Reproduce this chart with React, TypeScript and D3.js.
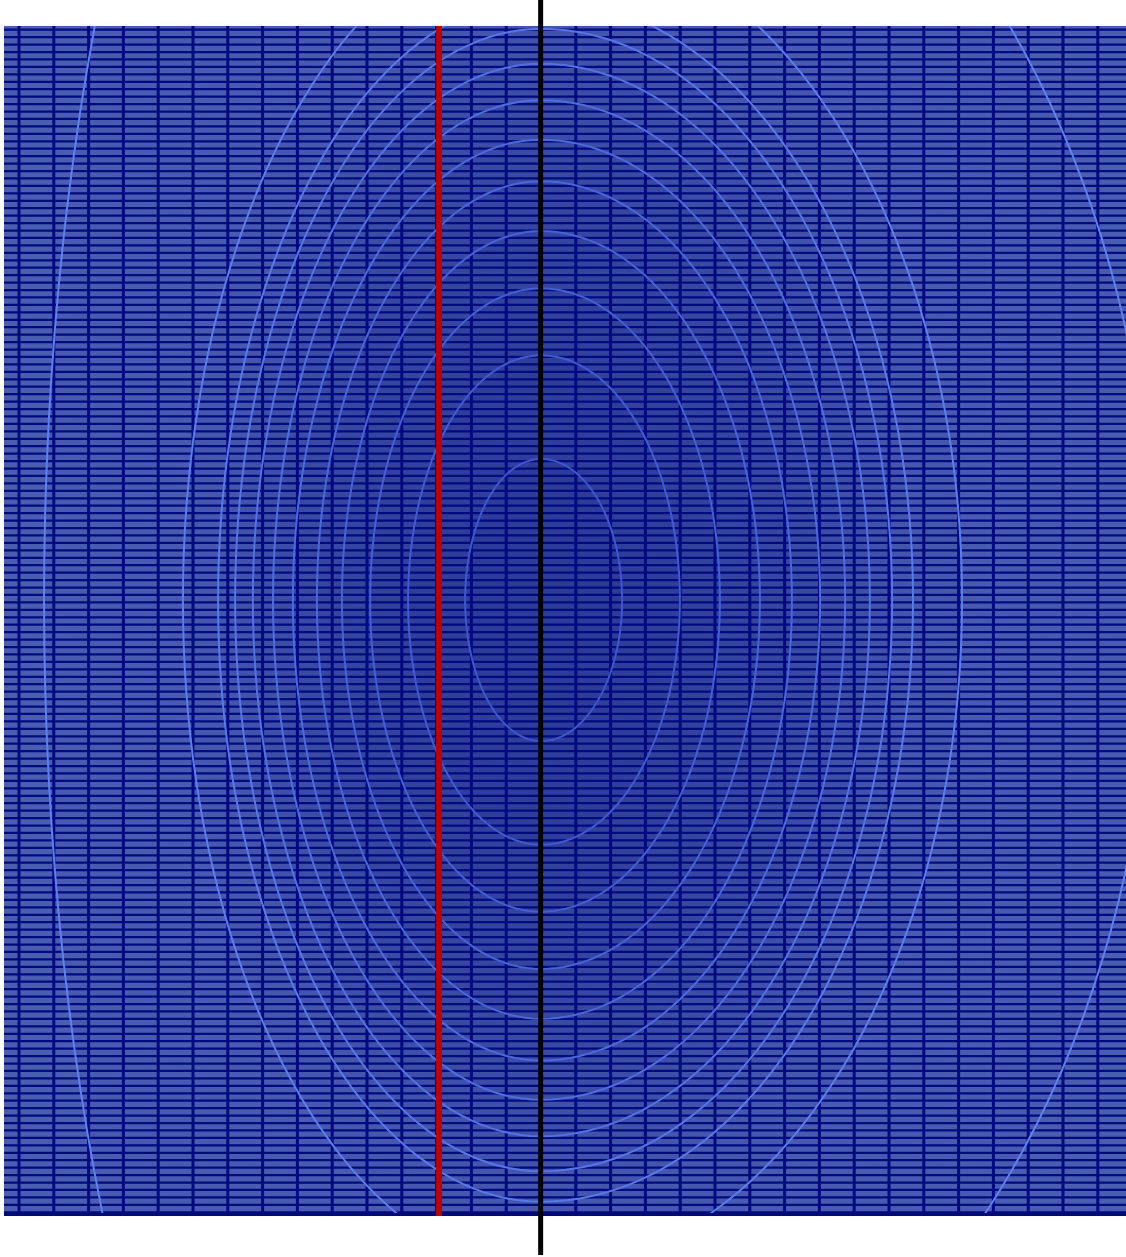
import React from "react";
import * as d3 from "d3";

// ---- data (grid units: columns along x, rows along y) ----
const X_EXTENT: [number, number] = [-15.431, 16.81];
const Y_EXTENT: [number, number] = [0, 160];
const COLUMN_TICKS = [-15, -14, -13, -12, -11, -10, -9, -8, -7, -6, -5, -4, -3, -2, -1, 0, 1, 2, 3, 4, 5, 6, 7, 8, 9, 10, 11, 12, 13, 14, 15, 16];
const ROW_COUNT = 160;

// contour center
const CENTER_X = 0;
const CENTER_Y = 77.18;

// contour half-widths (left / right of center, in column units) and half-heights (rows), inner -> outer
const ringLeft = [2.18, 3.82, 4.91, 5.72, 6.44, 7.13, 7.7, 8.28, 8.79, 9.28, 10.29, 14.28];
const ringRight = [2.33, 3.99, 5.14, 6.29, 7.21, 8.02, 8.74, 9.45, 10.09, 10.69, 12.1, 17.64];
const ringHeightLeft = [18.96, 32.9, 41.9, 49.6, 56.3, 61.9, 67.2, 72.1, 76.8, 80.9, 90.1, 175.3];
const ringHeightRight = [18.96, 32.9, 41.9, 49.6, 56.3, 61.9, 67.2, 72.1, 76.8, 80.9, 90.1, 119.5];

// vertical markers
const RED_MARKER_X = -2.93;
const BLACK_MARKER_X = -0.01;

const W = 1126;
const H = 1257;

export default function App() {
  const x = d3.scaleLinear().domain(X_EXTENT).range([4, 1126]);
  const y = d3.scaleLinear().domain(Y_EXTENT).range([26, 1216]);
  const cx = x(CENTER_X);
  const cy = y(CENTER_Y);
  const n = ringLeft.length;

  const fillScale = d3.scaleLinear<string>().domain([0, n]).range(["#2d3c97", "#4a5eb0"]).interpolate(d3.interpolateRgb);
  const strokeScale = d3.scaleLinear<string>().domain([0, n - 1]).range(["#3b57d2", "#5c82f0"]).interpolate(d3.interpolateRgb);

  const ringPath = (i: number) => {
    const L = cx - x(CENTER_X - ringLeft[i]);
    const R = x(CENTER_X + ringRight[i]) - cx;
    const hl = y(ringHeightLeft[i]) - y(0);
    const hr = y(ringHeightRight[i]) - y(0);
    const p = d3.path();
    p.moveTo(cx, cy - hr);
    // right half as elliptical arc (approximated via parametric points)
    const steps = 90;
    for (let k = 1; k <= steps; k++) {
      const t = -Math.PI / 2 + (Math.PI * k) / steps;
      p.lineTo(cx + R * Math.cos(t), cy + hr * Math.sin(t));
    }
    p.moveTo(cx, cy + hl);
    for (let k = 1; k <= steps; k++) {
      const t = Math.PI / 2 + (Math.PI * k) / steps;
      p.lineTo(cx + L * Math.cos(t), cy + hl * Math.sin(t));
    }
    return p.toString();
  };

  const fillPath = (i: number) => {
    const L = cx - x(CENTER_X - ringLeft[i]);
    const R = x(CENTER_X + ringRight[i]) - cx;
    const hl = y(ringHeightLeft[i]) - y(0);
    const hr = y(ringHeightRight[i]) - y(0);
    const p = d3.path();
    const steps = 90;
    p.moveTo(cx, cy - hr);
    for (let k = 1; k <= steps; k++) {
      const t = -Math.PI / 2 + (Math.PI * k) / steps;
      p.lineTo(cx + R * Math.cos(t), cy + hr * Math.sin(t));
    }
    p.lineTo(cx, cy + hl);
    for (let k = 1; k <= steps; k++) {
      const t = Math.PI / 2 + (Math.PI * k) / steps;
      p.lineTo(cx + L * Math.cos(t), cy + hl * Math.sin(t));
    }
    p.closePath();
    return p.toString();
  };

  const ringIdx = d3.range(n);
  const rows = d3.range(ROW_COUNT);

  return (
    <svg
      width={W}
      height={H}
      style={{ position: "absolute", left: 0, top: 0, display: "block", background: "#ffffff" }}
    >
      <defs>
        <clipPath id="plotClip">
          <rect x={4} y={26} width={1122} height={1190} />
        </clipPath>
      </defs>
      <g clipPath="url(#plotClip)">
        <rect x={4} y={26} width={1122} height={1190} fill={fillScale(n)} />
        {ringIdx
          .slice()
          .reverse()
          .map((i) => (
            <path key={"f" + i} d={fillPath(i)} fill={fillScale(i)} stroke="none" />
          ))}
        {rows.map((r) => (
          <line
            key={"h" + r}
            x1={4}
            x2={1126}
            y1={y(r + 0.5)}
            y2={y(r + 0.5)}
            stroke="#000a80"
            strokeWidth={2.3}
          />
        ))}
        {COLUMN_TICKS.map((c) => (
          <line key={"v" + c} x1={x(c)} x2={x(c)} y1={26} y2={1216} stroke="#000a80" strokeWidth={3} />
        ))}
        {ringIdx.map((i) => (
          <path key={"c" + i} d={ringPath(i)} fill="none" stroke={strokeScale(i)} strokeWidth={2} />
        ))}
        <line x1={4} x2={1126} y1={1214.5} y2={1214.5} stroke="#000a80" strokeWidth={3} />
      </g>
      <line x1={x(RED_MARKER_X)} x2={x(RED_MARKER_X)} y1={26} y2={1216} stroke="#c00000" strokeWidth={6} />
      <line x1={x(BLACK_MARKER_X)} x2={x(BLACK_MARKER_X)} y1={0} y2={1255} stroke="#000000" strokeWidth={5} />
    </svg>
  );
}
